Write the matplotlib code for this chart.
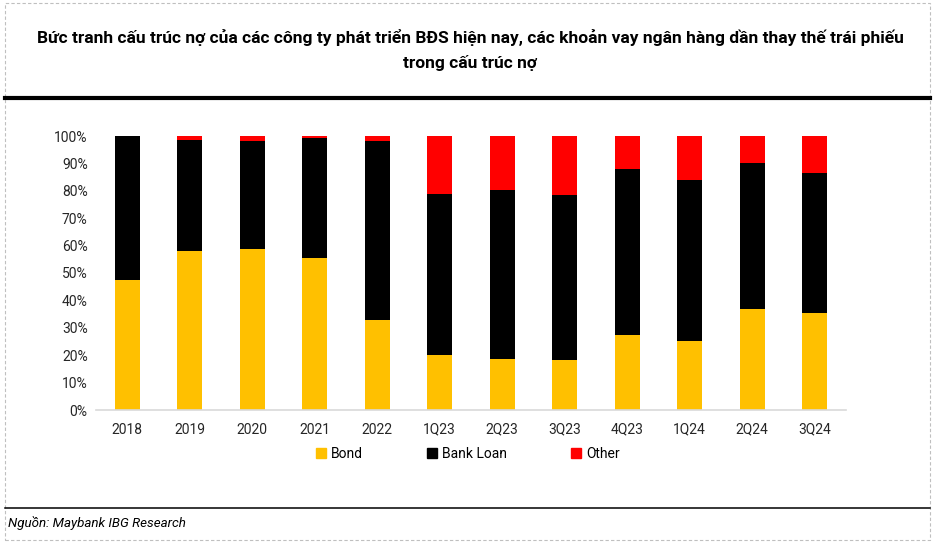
import numpy as np
import matplotlib.pyplot as plt
from matplotlib.patches import Rectangle, Patch
from matplotlib.lines import Line2D
from matplotlib.ticker import PercentFormatter

plt.rcParams['font.family'] = ['Roboto', 'DejaVu Sans']

# dữ liệu (%)
periods = ["2018", "2019", "2020", "2021", "2022", "1Q23", "2Q23",
           "3Q23", "4Q23", "1Q24", "2Q24", "3Q24"]
bond = [47.4, 58.0, 58.8, 55.5, 32.8, 20.1, 18.6, 18.2, 27.4, 25.2, 36.9, 35.4]
bond_plus_loan = [100.0, 98.5, 98.2, 99.3, 98.2, 78.8, 80.3, 78.5, 88.0, 83.9, 90.1, 86.5]

bank_loan = [t - b for t, b in zip(bond_plus_loan, bond)]
other = [100 - t for t in bond_plus_loan]

W, H = 935, 551
fig = plt.figure(figsize=(W / 100, H / 100), dpi=100)

# khung viền nét đứt
fig.patches.append(Rectangle((5 / W, 1 - 540 / H), 925 / W, 537 / H,
                             transform=fig.transFigure, fill=False,
                             edgecolor="#BFBFBF", linestyle=(0, (3, 2)), lw=0.8))
fig.lines.append(Line2D([5 / W, 930 / W], [1 - 98 / H] * 2, transform=fig.transFigure,
                        color="black", lw=3))
fig.lines.append(Line2D([5 / W, 930 / W], [1 - 508 / H] * 2, transform=fig.transFigure,
                        color="black", lw=1.1))

fig.text(0.503, 1 - 38 / H,
         "Bức tranh cấu trúc nợ của các công ty phát triển BĐS hiện nay, các khoản vay ngân hàng dần thay thế trái phiếu",
         ha="center", va="center", fontsize=12.5, fontweight="bold")
fig.text(0.503, 1 - 63 / H, "trong cấu trúc nợ",
         ha="center", va="center", fontsize=12.5, fontweight="bold")
fig.text(8 / W, 1 - 523 / H, "Nguồn: Maybank IBG Research",
         ha="left", va="center", fontsize=9.6, style="italic")

ax = fig.add_axes([96 / W, 1 - 410 / H, 750 / W, 274 / H])
x = np.arange(len(periods))
ax.bar(x, bond, width=0.4, color="#FFC000", label="Bond")
ax.bar(x, bank_loan, width=0.4, bottom=bond, color="black", label="Bank Loan")
ax.bar(x, other, width=0.4, bottom=bond_plus_loan, color="#FF0000", label="Other")

ax.set_xlim(-0.5, len(periods) - 0.5)
ax.set_ylim(0, 100)
ax.set_yticks(np.arange(0, 101, 10))
ax.yaxis.set_major_formatter(PercentFormatter(decimals=0))
ax.set_xticks(x)
ax.set_xticklabels(periods)
ax.tick_params(axis="both", length=0, labelsize=10, colors="#262626")
ax.tick_params(axis="x", pad=9)
ax.tick_params(axis="y", pad=6)
for s in ["top", "right", "left"]:
    ax.spines[s].set_visible(False)
ax.spines["bottom"].set_color("#D9D9D9")
ax.spines["bottom"].set_linewidth(1.2)

handles = [Patch(color="#FFC000"), Patch(color="black"), Patch(color="#FF0000")]
fig.legend(handles, ["Bond", "Bank Loan", "Other"], loc="center",
           bbox_to_anchor=(468 / W, 1 - 454 / H), ncol=3, frameon=False,
           fontsize=10, handlelength=0.7, handleheight=0.7, handletextpad=0.4,
           columnspacing=4.6)

fig.savefig("out.png", dpi=100)
